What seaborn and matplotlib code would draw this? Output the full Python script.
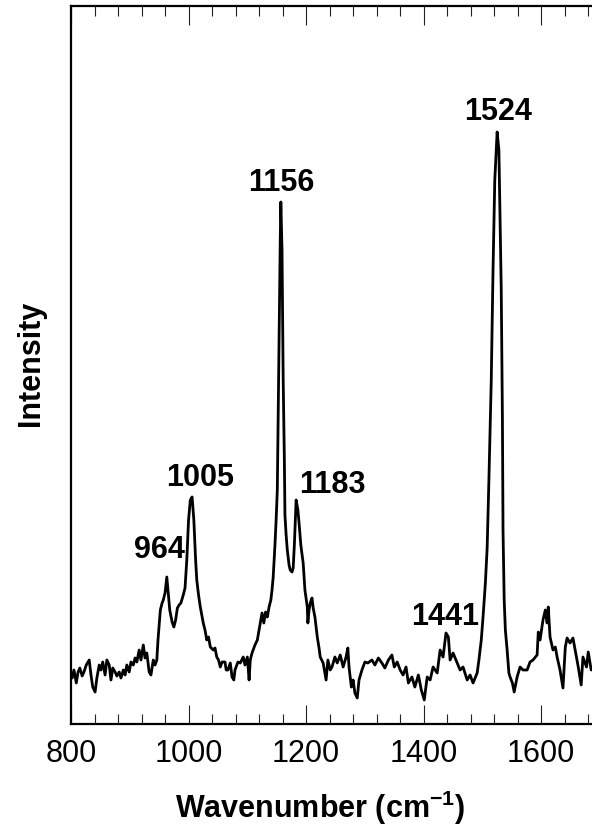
import matplotlib
matplotlib.use("Agg")
import matplotlib.pyplot as plt
import seaborn as sns
import pandas as pd
from matplotlib.ticker import MultipleLocator

# Raman spectrum (wavenumber in cm-1, intensity in a.u.)
wavenumber = [
    802, 805, 809, 812, 815, 819, 822, 826, 831, 834,
    837, 841, 844, 848, 851, 854, 858, 861, 865, 868,
    871, 875, 878, 882, 885, 889, 892, 895, 899, 902,
    906, 909, 912, 916, 919, 923, 926, 929, 933, 936,
    940, 943, 946, 948, 950, 952, 955, 957, 960, 963,
    965, 968, 972, 975, 978, 981, 984, 987, 991, 994,
    997, 1000, 1003, 1006, 1009, 1012, 1014, 1017, 1020, 1025,
    1028, 1031, 1034, 1037, 1042, 1045, 1048, 1051, 1054, 1057,
    1062, 1064, 1067, 1071, 1074, 1077, 1079, 1084, 1088, 1093,
    1096, 1100, 1103, 1105, 1108, 1113, 1117, 1122, 1125, 1128,
    1131, 1134, 1137, 1140, 1142, 1144, 1147, 1149, 1151, 1152,
    1154, 1156, 1157, 1159, 1161, 1163, 1164, 1166, 1168, 1171,
    1173, 1176, 1178, 1180, 1183, 1186, 1188, 1191, 1195, 1198,
    1202, 1203, 1205, 1207, 1210, 1212, 1215, 1219, 1222, 1224,
    1229, 1234, 1237, 1241, 1244, 1249, 1253, 1258, 1263, 1268,
    1271, 1273, 1277, 1280, 1283, 1287, 1290, 1295, 1300, 1305,
    1312, 1317, 1323, 1329, 1334, 1340, 1346, 1350, 1355, 1360,
    1365, 1370, 1374, 1380, 1385, 1391, 1396, 1401, 1406, 1411,
    1416, 1423, 1428, 1433, 1438, 1442, 1445, 1450, 1457, 1462,
    1467, 1474, 1479, 1484, 1491, 1494, 1498, 1501, 1505, 1508,
    1511, 1515, 1518, 1521, 1525, 1528, 1532, 1534, 1535, 1537,
    1539, 1542, 1545, 1547, 1551, 1554, 1559, 1564, 1569, 1576,
    1581, 1586, 1593, 1595, 1598, 1603, 1607, 1610, 1612, 1615,
    1620, 1624, 1627, 1632, 1637, 1641, 1644, 1649, 1654, 1660,
    1663, 1668, 1671, 1677, 1680, 1685,
]
intensity = [
    46, 54, 41, 52, 56, 48, 52, 59, 64, 49,
    37, 32, 46, 59, 54, 62, 49, 64, 59, 44,
    56, 52, 48, 52, 46, 54, 49, 59, 52, 62,
    59, 66, 62, 74, 64, 79, 66, 71, 52, 49,
    64, 59, 64, 84, 99, 114, 121, 124, 131, 147,
    134, 114, 102, 97, 104, 116, 119, 121, 129, 136,
    164, 204, 224, 227, 204, 164, 144, 129, 117, 101,
    94, 84, 87, 77, 74, 76, 67, 64, 57, 62,
    62, 54, 54, 61, 47, 44, 54, 62, 61, 67,
    59, 67, 44, 64, 71, 79, 84, 101, 111, 101,
    112, 107, 117, 124, 134, 147, 179, 204, 234, 284,
    384, 484, 522, 474, 344, 264, 209, 189, 174, 159,
    154, 152, 156, 179, 224, 214, 201, 179, 161, 134,
    117, 101, 114, 121, 126, 116, 107, 87, 76, 67,
    61, 44, 64, 54, 57, 67, 61, 69, 57, 67,
    76, 57, 37, 44, 31, 26, 44, 54, 62, 61,
    64, 59, 66, 61, 56, 64, 69, 57, 62, 54,
    49, 57, 41, 47, 37, 49, 34, 24, 47, 44,
    57, 51, 74, 67, 91, 87, 64, 71, 61, 54,
    57, 44, 49, 41, 51, 64, 84, 107, 141, 176,
    244, 344, 454, 544, 592, 574, 434, 304, 194, 124,
    94, 74, 51, 47, 41, 32, 47, 57, 54, 54,
    62, 64, 69, 92, 84, 104, 114, 101, 117, 87,
    74, 77, 67, 54, 36, 77, 86, 81, 86, 67,
    57, 39, 67, 57, 72, 54,
]

# peak labels and where their text sits (data coords)
peak_labels = ["964", "1005", "1156", "1183", "1441", "1524"]
label_x = [951, 1020, 1157, 1244, 1437, 1526]
label_y = [174, 246, 541, 239, 107, 612]

sns.set_style("ticks")
plt.rcParams["font.family"] = ["Liberation Sans", "DejaVu Sans"]
plt.rcParams["text.color"] = "black"
plt.rcParams["xtick.color"] = "black"
plt.rcParams["mathtext.fontset"] = "custom"
plt.rcParams["mathtext.bf"] = "Liberation Sans:bold"
plt.rcParams["mathtext.rm"] = "Liberation Sans:bold"

df = pd.DataFrame({"Wavenumber": wavenumber, "Intensity": intensity})

fig = plt.figure(figsize=(5.92, 8.4), dpi=100)
# axes extend past the right edge, the reference is cropped there
ax = fig.add_axes([71 / 592, 116 / 840, 529 / 592, 718 / 840])

sns.lineplot(data=df, x="Wavenumber", y="Intensity", ax=ax,
             color="black", linewidth=2.0, estimator=None)

ax.set_xlim(800, 1700)
ax.set_ylim(0, 718)
ax.set_yticks([])
ax.xaxis.set_major_locator(MultipleLocator(200))
ax.xaxis.set_minor_locator(MultipleLocator(40))
ax.tick_params(axis="x", which="both", direction="in", top=True, bottom=True,
               color="#222222", width=0.8, labelcolor="black")
ax.tick_params(axis="x", which="major", length=13.5, pad=11, labelsize=22)
ax.tick_params(axis="x", which="minor", length=7)
for side in ["left", "bottom", "top", "right"]:
    ax.spines[side].set_linewidth(1.6)
    ax.spines[side].set_color("black")

ax.set_xlabel("")
ax.set_ylabel("")
fig.text(320 / 592, 1 - 808 / 840, r"Wavenumber (cm$^{\mathbf{-1}}$)", ha="center", va="center",
         fontsize=22, fontweight="bold")
fig.text(31 / 592, 1 - 363 / 840, "Intensity", ha="center", va="center",
         rotation=90, fontsize=22, fontweight="bold")

for lbl, lx, ly in zip(peak_labels, label_x, label_y):
    ax.text(lx, ly, lbl, ha="center", va="center", fontsize=22, fontweight="bold")

fig.savefig("out.png", dpi=100)
